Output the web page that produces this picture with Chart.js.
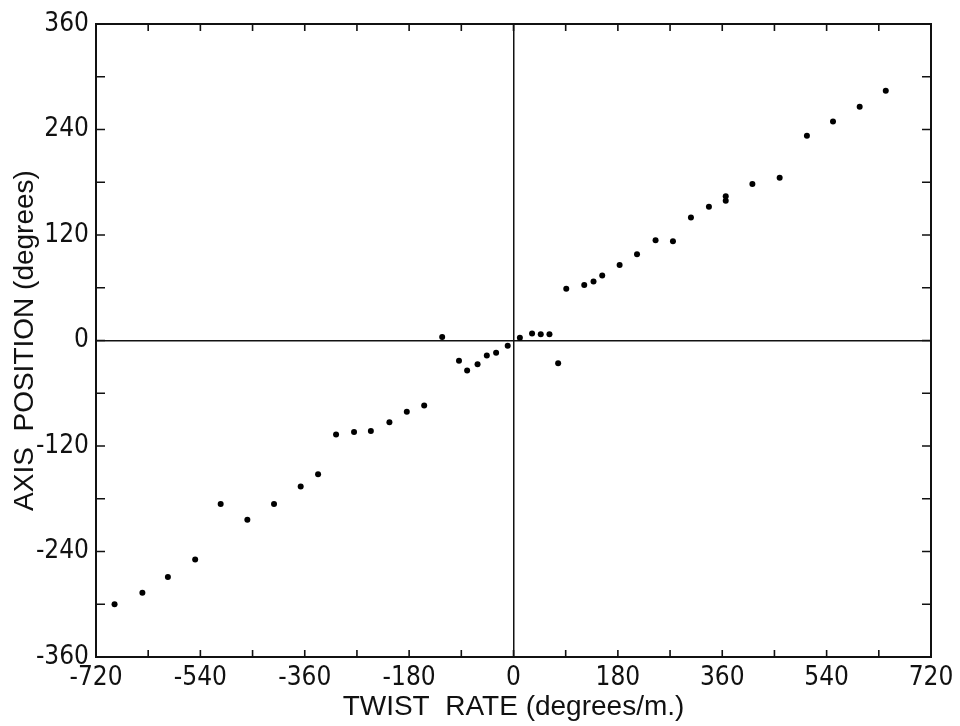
<!DOCTYPE html>
<html>
<head>
<meta charset="utf-8">
<script src="https://cdn.jsdelivr.net/npm/chart.js@4/dist/chart.umd.min.js"></script>
<style>
  html, body { margin: 0; background: #fff; }
</style>
</head>
<body>
<canvas id="chart" width="960" height="726"></canvas>
<script>
// twist rate (degrees/m.) and axis position (degrees)
const twistRate = [-688, -640, -596, -549, -505, -459, -413, -367, -337, -306, -275, -246,
  -214, -184, -154, -123, -94, -80, -62, -46, -30, -10,
  11, 32, 47, 62, 77, 91, 122, 138, 153, 183, 213, 245, 275, 306, 337, 366, 366,
  412, 459, 506, 551, 597, 642];
const axisPosition = [-300, -287, -269, -249, -186, -204, -186, -166, -152, -107, -104, -103,
  -93, -81, -74, 4, -23, -34, -27, -17, -14, -6,
  3, 8, 7, 7, -26, 59, 63, 67, 74, 86, 98, 114, 113, 140, 152, 164, 159,
  178, 185, 233, 249, 266, 284];

const xRange = [-720, 720];
const yRange = [-360, 360];
const xLabelStep = 180, xTickStep = 90;
const yLabelStep = 120, yTickStep = 60;

const points = twistRate.map((v, i) => ({x: v, y: axisPosition[i]}));

Chart.defaults.font.family = '"Liberation Sans Narrow", "DejaVu Sans Condensed", "Liberation Sans", sans-serif';
Chart.defaults.color = '#111';

// box round the plot with inward ticks on all four sides
const frameTicks = {
  id: 'frameTicks',
  afterDatasetsDraw(chart) {
    const {ctx, chartArea: a, scales: {x, y}} = chart;
    ctx.save();
    ctx.strokeStyle = '#111';
    ctx.lineWidth = 2;
    ctx.strokeRect(a.left, a.top, a.right - a.left, a.bottom - a.top);
    ctx.lineWidth = 1.6;
    ctx.beginPath();
    x.ticks.forEach(t => {
      const px = x.getPixelForValue(t.value);
      ctx.moveTo(px, a.bottom); ctx.lineTo(px, a.bottom - 7);
      ctx.moveTo(px, a.top); ctx.lineTo(px, a.top + 7);
    });
    y.ticks.forEach(t => {
      const py = y.getPixelForValue(t.value);
      ctx.moveTo(a.left, py); ctx.lineTo(a.left + 9, py);
      ctx.moveTo(a.right, py); ctx.lineTo(a.right - 9, py);
    });
    ctx.stroke();
    ctx.restore();
  }
};

const zeroLine = c => c.tick && c.tick.value === 0 ? '#111' : 'rgba(0,0,0,0)';

new Chart(document.getElementById('chart'), {
  type: 'scatter',
  data: {
    datasets: [{
      data: points,
      pointRadius: 3,
      pointBackgroundColor: '#000',
      pointBorderWidth: 0,
      showLine: false
    }]
  },
  options: {
    responsive: false,
    devicePixelRatio: 1,
    animation: false,
    layout: {padding: {top: 24, right: 29, left: 0, bottom: 0}},
    plugins: {legend: {display: false}, tooltip: {enabled: false}},
    scales: {
      x: {
        type: 'linear',
        min: xRange[0], max: xRange[1],
        afterFit: s => { s.height = 69; },
        border: {display: false},
        grid: {color: zeroLine, lineWidth: 1.5, drawTicks: false},
        ticks: {
          stepSize: xTickStep, autoSkip: false, maxRotation: 0, padding: 6,
          font: {size: 26},
          callback: v => v % xLabelStep === 0 ? String(v) : ''
        },
        title: {
          display: true, text: 'TWIST  RATE (degrees/m.)',
          font: {size: 28, family: '"Liberation Sans", sans-serif'},
          padding: {top: 0, bottom: 2}
        }
      },
      y: {
        type: 'linear',
        min: yRange[0], max: yRange[1],
        afterFit: s => { s.width = 96; },
        border: {display: false},
        grid: {color: zeroLine, lineWidth: 1.5, drawTicks: false},
        ticks: {
          stepSize: yTickStep, autoSkip: false, padding: 7,
          font: {size: 26},
          callback: v => v % yLabelStep === 0 ? String(v) : ''
        },
        title: {
          display: true, text: 'AXIS  POSITION (degrees)',
          font: {size: 28, family: '"Liberation Sans", sans-serif'},
          padding: {top: 8, bottom: 0}
        }
      }
    }
  },
  plugins: [frameTicks]
});
</script>
</body>
</html>
